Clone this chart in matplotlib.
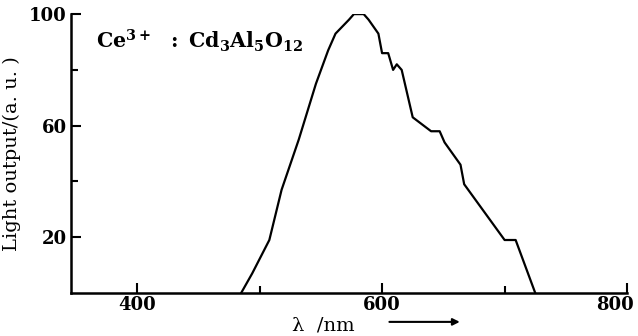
import matplotlib
matplotlib.use("Agg")
import matplotlib.pyplot as plt
import matplotlib.transforms as mtransforms

wavelength = [485, 494, 508, 518, 532, 546, 556, 562, 573, 577, 585, 589, 597, 600,
              605, 609, 612, 616, 625, 640, 647, 651, 664, 667, 700, 709, 725]
light_output = [0, 7, 19, 37, 55, 75, 87, 93, 98, 100, 100, 98, 93, 86,
                86, 80, 82, 80, 63, 58, 58, 54, 46, 39, 19, 19, 0]

x_major = [400, 600, 800]
x_minor = [500, 700]
y_major = [20, 60, 100]
y_minor = [40, 80]

plt.rcParams['font.family'] = ['DejaVu Serif']
plt.rcParams['mathtext.fontset'] = 'dejavuserif'

fig = plt.figure(figsize=(6.38, 3.36), dpi=100)
ax = fig.add_axes([0.111, 0.128, 0.872, 0.830])
ax.plot(wavelength, light_output, color='black', lw=1.6)
ax.set_xlim(346, 800)
ax.set_ylim(0, 100)
for s in ['top', 'right']:
    ax.spines[s].set_visible(False)
for s in ['left', 'bottom']:
    ax.spines[s].set_linewidth(1.8)
ax.set_xticks(x_major)
ax.set_xticks(x_minor, minor=True)
ax.set_yticks(y_major)
ax.set_yticks(y_minor, minor=True)
ax.tick_params(which='both', direction='in', width=1.5, labelsize=13)
ax.tick_params(which='major', length=7)
ax.tick_params(which='minor', length=5)
ax.tick_params(axis='y', pad=3)
ax.tick_params(axis='x', pad=2)
for lab in ax.get_xticklabels() + ax.get_yticklabels():
    lab.set_fontweight('bold')
fig.canvas.draw()
last = ax.get_xticklabels()[-1]
last.set_transform(last.get_transform() + mtransforms.ScaledTranslation(-0.12, 0, fig.dpi_scale_trans))

ax.set_ylabel('Light output/(a. u. )', fontsize=14, labelpad=6)
fig.text(0.458, 0.005, 'λ  /nm', fontsize=14, ha='left', va='bottom')
ax.annotate('', xy=(0.725, 0.042), xytext=(0.606, 0.042), xycoords='figure fraction',
            arrowprops=dict(arrowstyle='-|>', color='black', lw=1.5, mutation_scale=10))
ax.text(0.045, 0.905, r'$\mathbf{Ce^{3+}\ \ :\ Cd_3Al_5O_{12}}$', transform=ax.transAxes,
        fontsize=14.8, va='center', ha='left')
fig.savefig('out.png', dpi=100)
